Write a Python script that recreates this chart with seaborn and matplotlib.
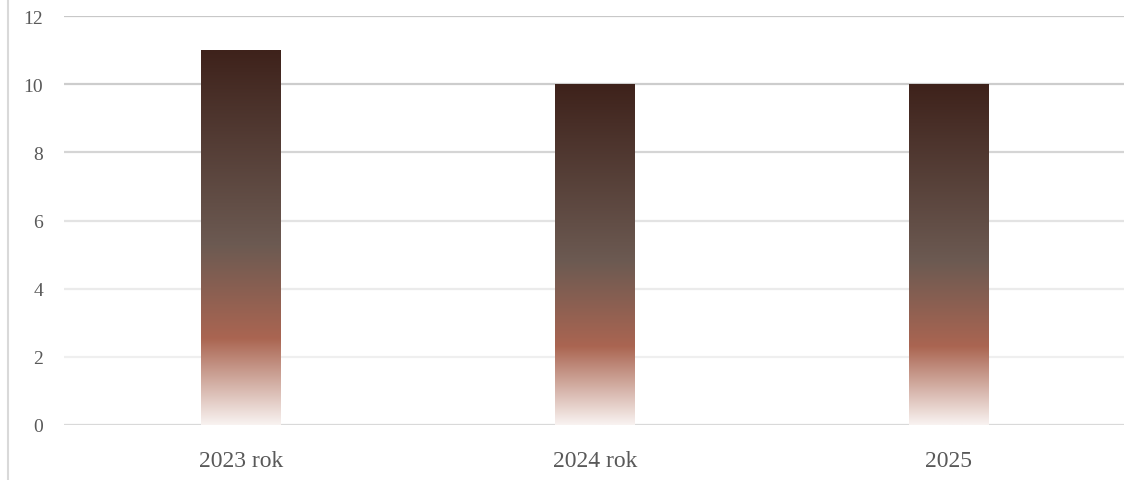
import matplotlib.pyplot as plt
import numpy as np
import pandas as pd
import seaborn as sns
from matplotlib.colors import LinearSegmentedColormap
from matplotlib.lines import Line2D

categories = ["2023 rok", "2024 rok", "2025"]
values = [11, 10, 10]
y_ticks = [0, 2, 4, 6, 8, 10, 12]

GRADIENT = LinearSegmentedColormap.from_list(
    "bar_grad",
    [(0.0, "#f8f2f0"), (0.23, "#aa6551"), (0.48, "#6c5a52"), (1.0, "#3e221b")],
)
TEXT_COLOR = "#595959"

sns.set_theme(style="white")
plt.rcParams["font.family"] = ["Liberation Serif", "DejaVu Serif"]

df = pd.DataFrame({"category": categories, "value": values})

fig = plt.figure(figsize=(11.24, 4.81), dpi=100)
ax = fig.add_axes([64 / 1124, 1 - 426 / 481, (1126 - 64) / 1124, (426 - 17) / 481])

sns.barplot(data=df, x="category", y="value", width=80 / 354, ax=ax, zorder=3)

grad = np.linspace(0, 1, 256).reshape(-1, 1)
for patch in ax.patches:
    x0, y0 = patch.get_x(), patch.get_y()
    w, h = patch.get_width(), patch.get_height()
    patch.set_facecolor("none")
    patch.set_edgecolor("none")
    im = ax.imshow(grad, cmap=GRADIENT, origin="lower", aspect="auto",
                   extent=(x0, x0 + w, y0, y0 + h), zorder=3, interpolation="bilinear")
    im.set_clip_path(patch)

ax.set_xlim(-0.5, 2.5)
ax.set_ylim(0, 12)
ax.set_yticks(y_ticks)
ax.set_yticklabels([str(t) for t in y_ticks])

grid_colors = {0: "#d9d9d9", 2: "#efefef", 4: "#ebebeb", 6: "#e3e3e3",
               8: "#d5d5d5", 10: "#cdcdcd", 12: "#c8c8c8"}
for t in y_ticks:
    ax.axhline(t, color=grid_colors[t], lw=1.6, zorder=1)

for s in ax.spines.values():
    s.set_visible(False)
ax.set_xlabel("")
ax.set_ylabel("")
ax.tick_params(axis="y", length=0, pad=15, labelsize=14, labelcolor=TEXT_COLOR)
ax.tick_params(axis="x", length=0, pad=18, labelsize=17, labelcolor=TEXT_COLOR)

fig.add_artist(Line2D([7.5 / 1124, 7.5 / 1124], [0, 1], color="#d9d9d9", lw=1.5,
                      transform=fig.transFigure))

fig.savefig("out.png", dpi=100)
